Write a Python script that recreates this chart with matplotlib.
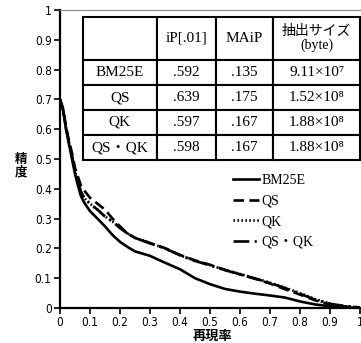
import matplotlib
matplotlib.use("Agg")
from matplotlib import pyplot as plt

plt.rcParams['font.family'] = ['DejaVu Sans', 'Noto Sans CJK JP']

recall = [0, 0.01, 0.02, 0.03, 0.04, 0.05, 0.06, 0.07, 0.08, 0.1, 0.125, 0.15,
          0.175, 0.2, 0.225, 0.25, 0.3, 0.35, 0.4, 0.45, 0.5, 0.55, 0.6, 0.65,
          0.7, 0.75, 0.8, 0.85, 0.9, 0.95, 1.0]
bm25e = [0.70, 0.665, 0.60, 0.55, 0.50, 0.45, 0.41, 0.375, 0.355, 0.325, 0.30,
         0.274, 0.245, 0.222, 0.205, 0.19, 0.175, 0.152, 0.13, 0.10, 0.08,
         0.064, 0.055, 0.048, 0.042, 0.035, 0.022, 0.012, 0.006, 0.003, 0.0]
qs = [0.70, 0.67, 0.61, 0.56, 0.52, 0.47, 0.44, 0.41, 0.395, 0.37, 0.35, 0.33,
      0.30, 0.274, 0.25, 0.235, 0.218, 0.201, 0.178, 0.16, 0.145, 0.128, 0.113,
      0.098, 0.082, 0.063, 0.045, 0.026, 0.012, 0.005, 0.002]
qk = [0.70, 0.665, 0.605, 0.555, 0.51, 0.46, 0.42, 0.39, 0.37, 0.35, 0.33,
      0.307, 0.29, 0.27, 0.25, 0.236, 0.218, 0.20, 0.177, 0.158, 0.144, 0.128,
      0.114, 0.10, 0.085, 0.068, 0.05, 0.03, 0.015, 0.006, 0.002]
qsqk = [0.70, 0.665, 0.605, 0.555, 0.51, 0.46, 0.42, 0.39, 0.37, 0.35, 0.33,
        0.307, 0.29, 0.268, 0.25, 0.235, 0.217, 0.20, 0.177, 0.158, 0.143,
        0.127, 0.113, 0.099, 0.084, 0.067, 0.048, 0.028, 0.014, 0.006, 0.002]

col_labels = ['', 'iP[.01]', 'MAiP', '抽出サイズ\n(byte)']
run_names = ['BM25E', 'QS', 'QK', 'QS・QK']
ip01 = ['.592', '.639', '.597', '.598']
maip = ['.135', '.175', '.167', '.167']
sizes = ['9.11×10⁷', '1.52×10⁸', '1.88×10⁸', '1.88×10⁸']

fig = plt.figure(figsize=(3.61, 3.43), dpi=100)
ax = fig.add_axes([60/361, 35/343, 300/361, 298/343])

lw = 1.9
ax.plot(recall, bm25e, color='black', lw=lw, ls='-', label='BM25E')
ax.plot(recall, qs, color='black', lw=lw, ls=(0, (4, 2)), label='QS')
ax.plot(recall, qk, color='black', lw=lw, ls=(0, (0.6, 0.9)), label='QK')
ax.plot(recall, qsqk, color='black', lw=lw, ls=(0, (6, 2, 0.8, 2)),
        label='QS・QK')

ax.set_xlim(0, 1)
ax.set_ylim(0, 1)
ax.set_xticks([i/10 for i in range(11)])
ax.set_yticks([i/10 for i in range(11)])
fmt = lambda v: '0' if v == 0 else ('1' if v == 1 else ('%.1f' % v))
ax.set_xticklabels([fmt(i/10) for i in range(11)], fontsize=8.5,
                   fontstretch='condensed')
ax.set_yticklabels([fmt(i/10) for i in range(11)], fontsize=8.5,
                   fontstretch='condensed')
ax.tick_params(direction='out', length=4, width=1.2, pad=2)
for s in ['left', 'bottom']:
    ax.spines[s].set_linewidth(1.6)
ax.spines['top'].set_color('#888888')
ax.spines['top'].set_linewidth(0.8)
ax.spines['right'].set_visible(False)

fig.text(212/361, 1 - 336/343, '再現率', ha='center', va='center',
         fontsize=9.5, fontweight='bold', family='Noto Sans CJK JP')
fig.text(21/361, 1 - 166/343, '精\n度', ha='center', va='center',
         fontsize=9, fontweight='bold', family='Noto Sans CJK JP',
         linespacing=1.0)

leg = ax.legend(loc='upper left', bbox_to_anchor=(0.577, 0.45),
                frameon=False, borderpad=0, borderaxespad=0,
                handlelength=1.9, handletextpad=0.15, labelspacing=0.55,
                prop={'family': ['Liberation Serif', 'Noto Sans CJK JP'],
                      'size': 10})

# table
cells = [[n, a, b, c] for n, a, b, c in zip(run_names, ip01, maip, sizes)]
tab = ax.table(cellText=[col_labels] + cells, cellLoc='center',
               colWidths=[74, 59, 57.6, 86.7],
               bbox=[22.7/300, 148/298, 277.3/300, 143.3/298])
tab.auto_set_font_size(False)
for (r, c), cell in tab.get_celld().items():
    cell.set_linewidth(1.5)
    cell.set_height(43.3 if r == 0 else 25)
    t = cell.get_text()
    t.set_fontfamily(['Liberation Serif', 'Noto Sans CJK JP'])
    t.set_fontsize(11)
    if r == 0 and c == 3:
        t.set_fontsize(10)
        t.set_linespacing(1.1)

fig.savefig('out.png', dpi=100)
